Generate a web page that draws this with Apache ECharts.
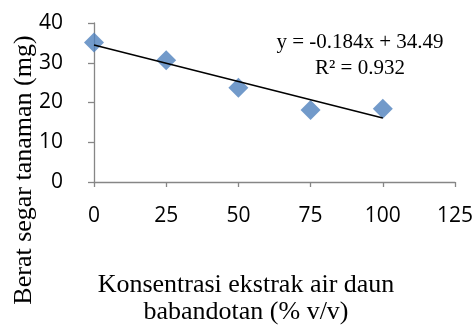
<!DOCTYPE html>
<html><head><meta charset="utf-8">
<script src="https://cdn.jsdelivr.net/npm/echarts@6/dist/echarts.min.js"></script>
<style>html,body{margin:0;padding:0;background:#fff}#c{width:476px;height:326px}</style>
</head><body><div id="c"></div>
<script>
const xValues = [0, 25, 50, 75, 100];
const yValues = [35.1, 30.6, 23.7, 18.1, 18.4];
const trendSlope = -0.184;
const trendIntercept = 34.49;
const xTicks = [0, 25, 50, 75, 100, 125];
const yTicks = [0, 10, 20, 30, 40];
const equationText = 'y = -0.184x + 34.49\nR² = 0.932';
const xTitle = 'Konsentrasi ekstrak air daun\nbabandotan (% v/v)';
const yTitle = 'Berat segar tanaman (mg)';

const points = xValues.map((x, i) => [x, yValues[i]]);
const trend = [xValues[0], xValues[xValues.length - 1]].map(x => [x, trendSlope * x + trendIntercept]);

const chart = echarts.init(document.getElementById('c'));
const axisCol = '#868686';
const tickFont = {fontFamily: 'Open Sans', fontSize: 21, color: '#000'};
chart.setOption({
  animation: false,
  grid: {left: 94, right: 21, top: 23, bottom: 144},
  xAxis: {
    type: 'value', min: 0, max: 125, interval: 25,
    axisLine: {show: true, lineStyle: {color: axisCol, width: 1.3}},
    axisTick: {show: true, length: 5, lineStyle: {color: axisCol, width: 1.3}},
    splitLine: {show: false},
    axisLabel: Object.assign({margin: 24}, tickFont)
  },
  yAxis: {
    type: 'value', min: 0, max: 40, interval: 10,
    axisLine: {show: true, onZero: false, lineStyle: {color: axisCol, width: 1.3}},
    axisTick: {show: true, length: 6, lineStyle: {color: axisCol, width: 1.3}},
    splitLine: {show: false},
    axisLabel: Object.assign({margin: 31}, tickFont)
  },
  graphic: [
    {type: 'text', x: 246, y: 299, style: {text: xTitle, font: '26px "Liberation Serif"', fill: '#000', textAlign: 'center', textVerticalAlign: 'middle', lineHeight: 27}},
    {type: 'text', x: 24, y: 170, rotation: Math.PI / 2, style: {text: yTitle, font: '26px "Liberation Serif"', fill: '#000', textAlign: 'center', textVerticalAlign: 'middle'}},
    {type: 'text', x: 360, y: 55, style: {text: equationText, font: '21px "Liberation Serif"', fill: '#000', textAlign: 'center', textVerticalAlign: 'middle', lineHeight: 26}}
  ],
  series: [
    {type: 'line', data: trend, showSymbol: false, symbol: 'none', lineStyle: {color: '#000', width: 1.5}, z: 3},
    {type: 'scatter', data: points, symbol: 'diamond', symbolSize: 20, clip: false, itemStyle: {color: '#4F81BD'}, z: 2}
  ]
});
</script></body></html>
